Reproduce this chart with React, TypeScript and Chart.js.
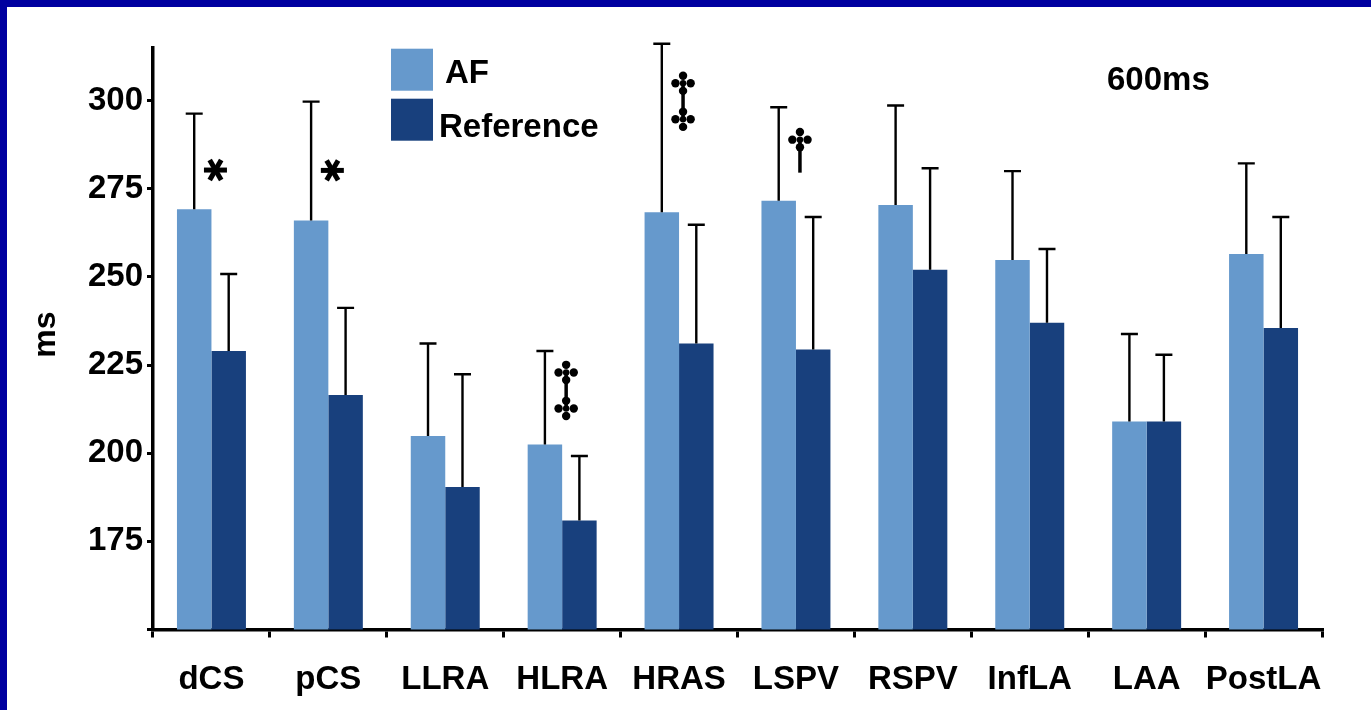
import { useEffect, useRef } from "react";
import { Chart, registerables } from "chart.js";

Chart.register(...registerables);

// Mapping sites
const categories = ["dCS", "pCS", "LLRA", "HLRA", "HRAS", "LSPV", "RSPV", "InfLA", "LAA", "PostLA"];

// Mean values (ms) and standard deviations, AF group
const afMeans = [269.2, 266.0, 204.9, 202.5, 268.3, 271.6, 270.4, 254.8, 209.0, 256.5];
const afSD = [27.1, 33.7, 26.2, 26.5, 47.8, 26.5, 28.2, 25.2, 24.8, 25.7];

// Mean values (ms) and standard deviations, reference group
const refMeans = [229.0, 216.5, 190.4, 180.9, 231.1, 229.4, 252.0, 237.0, 209.0, 235.5];
const refSD = [21.8, 24.7, 32.0, 18.3, 33.7, 37.6, 28.8, 20.9, 18.9, 31.5];

// Y axis ticks
const yTicks = [150, 175, 200, 225, 250, 275, 300];
const yMin = 150;
const yMax = 315;

// Significance marks: site, symbol, vertical centre in ms
const markSites = ["dCS", "pCS", "HLRA", "HRAS", "LSPV"];
const markSymbols = ["*", "*", "‡", "‡", "†"];
const markValues = [280.3, 280.2, 217.8, 299.8, 285.8];

const seriesNames = ["AF", "Reference"];
const cycleLabel = "600ms";
const yTitle = "ms";

const FONT = '"Liberation Sans", Arial, Helvetica, sans-serif';
const AF_COLOR = "#6699cc";
const REF_COLOR = "#18407d";

function clover(ctx: CanvasRenderingContext2D, cx: number, cy: number) {
  const r = 4.2;
  const d = 7.6;
  const pts = [
    [0, -d],
    [-d, 0],
    [d, 0],
    [0, d],
  ];
  for (const [dx, dy] of pts) {
    ctx.beginPath();
    ctx.arc(cx + dx, cy + dy, r, 0, Math.PI * 2);
    ctx.fill();
  }
  ctx.beginPath();
  ctx.arc(cx, cy, 3.2, 0, Math.PI * 2);
  ctx.fill();
}

const errorBars = {
  id: "errorBars",
  afterDatasetsDraw(chart: any) {
    const ctx: CanvasRenderingContext2D = chart.ctx;
    const y = chart.scales.y;
    chart.data.datasets.forEach((ds: any, di: number) => {
      const meta = chart.getDatasetMeta(di);
      meta.data.forEach((bar: any, i: number) => {
        const top = y.getPixelForValue(ds.data[i] + ds.sd[i]);
        ctx.save();
        ctx.strokeStyle = "#000";
        ctx.lineWidth = 2.4;
        ctx.beginPath();
        ctx.moveTo(bar.x, bar.y);
        ctx.lineTo(bar.x, top);
        ctx.moveTo(bar.x - 8.5, top);
        ctx.lineTo(bar.x + 8.5, top);
        ctx.stroke();
        ctx.restore();
      });
    });
  },
};

const marks = {
  id: "marks",
  afterDatasetsDraw(chart: any) {
    const ctx: CanvasRenderingContext2D = chart.ctx;
    const y = chart.scales.y;
    const meta = chart.getDatasetMeta(0);
    markSites.forEach((site, k) => {
      const idx = categories.indexOf(site);
      const bar: any = meta.data[idx];
      const cx = bar.x + bar.width / 2 + 4;
      const cy = y.getPixelForValue(markValues[k]);
      const sym = markSymbols[k];
      ctx.save();
      ctx.fillStyle = "#000";
      ctx.strokeStyle = "#000";
      if (sym === "*") {
        ctx.lineWidth = 5;
        const L = 11.5;
        [0, Math.PI / 3, (2 * Math.PI) / 3].forEach((a) => {
          ctx.beginPath();
          ctx.moveTo(cx - L * Math.cos(a), cy - L * Math.sin(a));
          ctx.lineTo(cx + L * Math.cos(a), cy + L * Math.sin(a));
          ctx.stroke();
        });
      } else if (sym === "‡") {
        const t = cy - 18;
        const b = cy + 18;
        ctx.lineWidth = 3.5;
        ctx.beginPath();
        ctx.moveTo(cx, t);
        ctx.lineTo(cx, b);
        ctx.stroke();
        clover(ctx, cx, t);
        clover(ctx, cx, b);
      } else {
        const t = cy - 11;
        ctx.lineWidth = 3.5;
        ctx.beginPath();
        ctx.moveTo(cx, t);
        ctx.lineTo(cx, cy + 22);
        ctx.stroke();
        clover(ctx, cx, t);
      }
      ctx.restore();
    });
  },
};

const annotations = {
  id: "annotations",
  afterDraw(chart: any) {
    const ctx: CanvasRenderingContext2D = chart.ctx;
    const area = chart.chartArea;
    ctx.save();
    // legend
    const lx = area.left + 238;
    const ly = area.top + 1;
    ctx.fillStyle = AF_COLOR;
    ctx.fillRect(lx, ly, 42, 42);
    ctx.fillStyle = REF_COLOR;
    ctx.fillRect(lx, ly + 50, 42, 42);
    ctx.fillStyle = "#000";
    ctx.font = `bold 33px ${FONT}`;
    ctx.textBaseline = "alphabetic";
    ctx.textAlign = "left";
    ctx.fillText(seriesNames[0], lx + 54, ly + 34);
    ctx.fillText(seriesNames[1], lx + 48, ly + 88);
    // cycle length label
    ctx.fillText(cycleLabel, area.left + 954, area.top + 42);
    // y title
    ctx.translate(39, (area.top + area.bottom) / 2 - 4);
    ctx.rotate(-Math.PI / 2);
    ctx.textAlign = "center";
    ctx.textBaseline = "middle";
    ctx.font = `bold 32px ${FONT}`;
    ctx.fillText(yTitle, 0, 0);
    ctx.restore();
  },
};

export default function App() {
  const ref = useRef<HTMLCanvasElement>(null);

  useEffect(() => {
    document.body.style.margin = "0";
    document.body.style.background = "#fff";
    const chart = new Chart(ref.current as HTMLCanvasElement, {
      type: "bar",
      data: {
        labels: categories,
        datasets: [
          {
            label: seriesNames[0],
            data: afMeans,
            sd: afSD,
            backgroundColor: AF_COLOR,
            borderWidth: 0,
          } as any,
          {
            label: seriesNames[1],
            data: refMeans,
            sd: refSD,
            backgroundColor: REF_COLOR,
            borderWidth: 0,
          } as any,
        ],
      },
      options: {
        animation: false,
        responsive: true,
        maintainAspectRatio: false,
        layout: { padding: { left: 0, top: 40.7, right: 49, bottom: 0 } },
        datasets: { bar: { barPercentage: 1, categoryPercentage: 0.59 } },
        plugins: {
          legend: { display: false },
          tooltip: { enabled: false },
          title: { display: false },
        },
        scales: {
          x: {
            grid: {
              display: true,
              drawOnChartArea: false,
              drawTicks: true,
              tickLength: 8,
              lineWidth: 3,
              color: "#000",
            },
            border: { display: true, color: "#000", width: 3.5 },
            ticks: {
              color: "#000",
              font: { family: FONT, size: 33, weight: "bold" },
              padding: 23,
              maxRotation: 0,
              autoSkip: false,
            },
            afterFit(scale: any) {
              scale.height = 80.5;
            },
          },
          y: {
            min: yMin,
            max: yMax,
            afterBuildTicks(scale: any) {
              scale.ticks = yTicks.map((v) => ({ value: v }));
            },
            grid: {
              display: true,
              drawOnChartArea: false,
              drawTicks: true,
              tickLength: 6,
              lineWidth: 3,
              color: "#000",
            },
            border: { display: true, color: "#000", width: 3.5 },
            ticks: {
              color: "#000",
              font: { family: FONT, size: 33, weight: "bold" },
              padding: 4,
              callback: (v: any) => (v === yMin ? "" : String(v)),
            },
            afterFit(scale: any) {
              scale.width = 146;
            },
          },
        },
      },
      plugins: [errorBars, marks, annotations],
    } as any);
    return () => chart.destroy();
  }, []);

  return (
    <div
      style={{
        position: "fixed",
        left: 0,
        top: 0,
        width: 1371,
        height: 710,
        background: "#fff",
        borderTop: "7px solid #0000a0",
        borderLeft: "7px solid #0000a0",
        boxSizing: "border-box",
        overflow: "hidden",
      }}
    >
      <div style={{ position: "relative", width: 1364, height: 703 }}>
        <canvas ref={ref} />
      </div>
    </div>
  );
}
